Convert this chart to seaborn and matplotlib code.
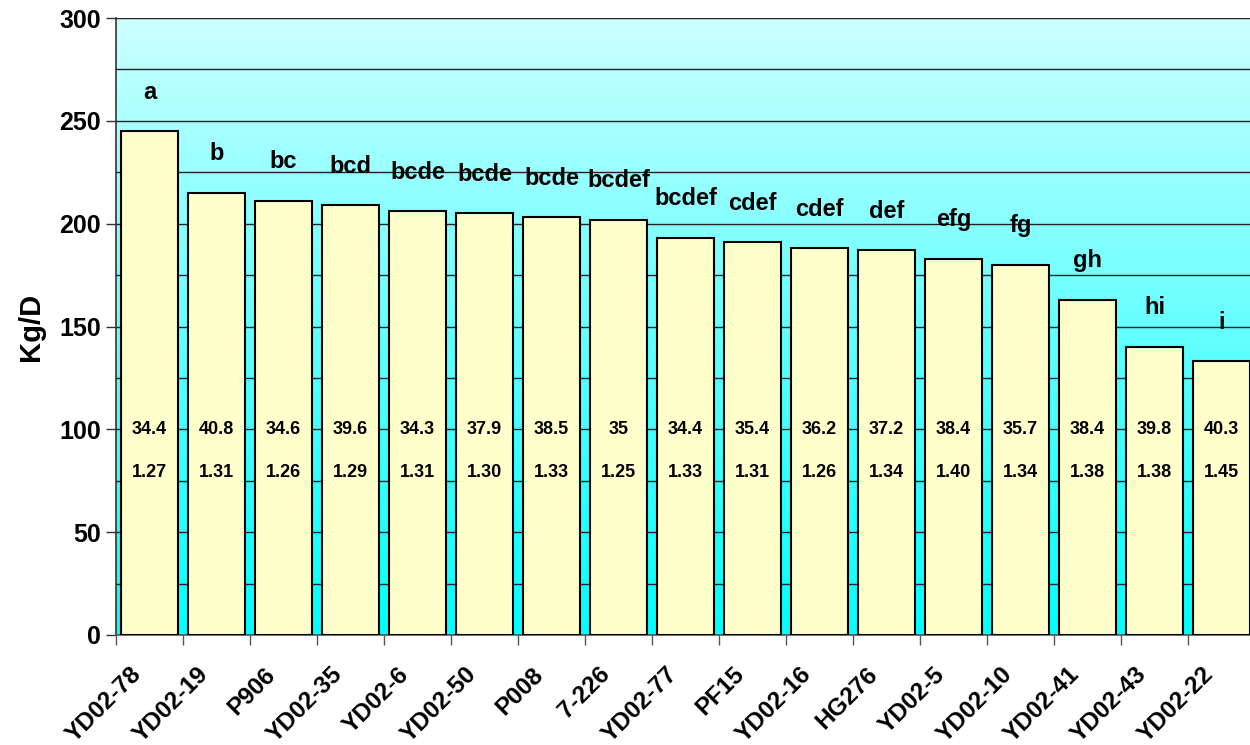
import numpy as np
import pandas as pd
import matplotlib
matplotlib.use("Agg")
import matplotlib.pyplot as plt
import matplotlib.transforms as mtransforms
import seaborn as sns
from matplotlib.colors import LinearSegmentedColormap

# ── data ──────────────────────────────────────────────────────────────────────
lines   = ["YD02-78", "YD02-19", "P906", "YD02-35", "YD02-6", "YD02-50", "P008",
           "7-226", "YD02-77", "PF15", "YD02-16", "HG276", "YD02-5", "YD02-10",
           "YD02-41", "YD02-43", "YD02-22"]
kg_day  = [245, 215, 211, 209, 206, 205, 203, 202, 193, 191, 188, 187, 183,
           180, 163, 140, 133]
letters = ["a", "b", "bc", "bcd", "bcde", "bcde", "bcde", "bcdef", "bcdef",
           "cdef", "cdef", "def", "efg", "fg", "gh", "hi", "i"]
row1    = ["34.4", "40.8", "34.6", "39.6", "34.3", "37.9", "38.5", "35", "34.4",
           "35.4", "36.2", "37.2", "38.4", "35.7", "38.4", "39.8", "40.3"]
row2    = ["1.27", "1.31", "1.26", "1.29", "1.31", "1.30", "1.33", "1.25", "1.33",
           "1.31", "1.26", "1.34", "1.40", "1.34", "1.38", "1.38", "1.45"]

df = pd.DataFrame({"line": lines, "kg": kg_day})

sns.set_style("ticks")
plt.rcParams["font.family"] = ["Liberation Sans", "DejaVu Sans"]
plt.rcParams["font.weight"] = "bold"
plt.rcParams["text.color"] = "black"
plt.rcParams["axes.labelcolor"] = "black"
plt.rcParams["xtick.color"] = "black"
plt.rcParams["ytick.color"] = "black"

fig = plt.figure(figsize=(12.5, 7.45), dpi=100)
ax = fig.add_axes([116 / 1250, 110 / 745, 1139 / 1250, 617 / 745])

# gradient background (light cyan top -> cyan bottom)
cmap = LinearSegmentedColormap.from_list("bg", ["#00FFFF", "#CCFFFF"])
grad = np.linspace(0, 1, 256).reshape(-1, 1)
ax.imshow(grad, cmap=cmap, origin="lower", aspect="auto",
          extent=[-0.5, len(lines) - 0.5, 0, 300], zorder=0)

sns.barplot(data=df, x="line", y="kg", color="#FFFFCC", edgecolor="black",
            linewidth=1.5, width=0.84, saturation=1, ax=ax, zorder=3)

ax.set_xlim(-0.5, len(lines) - 0.5)
ax.set_ylim(0, 300)

# grid every 25, ticks every 50
ax.set_yticks(np.arange(0, 301, 50))
ax.set_yticks(np.arange(0, 301, 25), minor=True)
ax.yaxis.grid(True, which="both", color="#222222", linewidth=1.0, zorder=1)
ax.tick_params(axis="y", which="minor", length=0)
ax.tick_params(axis="y", which="major", length=7, width=1, color="#333333",
               labelsize=18, pad=4)
ax.set_axisbelow(True)

# x ticks sit between the bars; labels at bar centres
ax.set_xticks(np.arange(len(lines)))
ax.set_xticks(np.arange(len(lines) + 1) - 0.5, minor=True)
ax.tick_params(axis="x", which="major", length=0, labelsize=17.5, pad=20)
ax.tick_params(axis="x", which="minor", length=7, width=1, color="#555555")
ax.set_xticklabels(lines, rotation=45, ha="right", rotation_mode="anchor",
                   fontweight="bold")
shift = mtransforms.ScaledTranslation(-20 / 100, 0, fig.dpi_scale_trans)
for lab in ax.get_xticklabels():
    lab.set_transform(lab.get_transform() + shift)
for lab in ax.get_yticklabels():
    lab.set_fontweight("bold")

ax.set_xlabel("")
ax.set_ylabel("Kg/D", fontsize=21, fontweight="bold", labelpad=10)

for s in ["top", "right"]:
    ax.spines[s].set_visible(False)
ax.spines["left"].set_color("#333333")
ax.spines["bottom"].set_color("#555555")
ax.spines["left"].set_linewidth(1.2)
ax.spines["bottom"].set_linewidth(1.2)

# significance letters and inner numbers
for i, (v, let) in enumerate(zip(kg_day, letters)):
    ax.text(i, v + 19, let, ha="center", va="center", fontsize=17,
            fontweight="bold", zorder=5)
    ax.text(i, 100, row1[i], ha="center", va="center", fontsize=13,
            fontweight="bold", zorder=5)
    ax.text(i, 79, row2[i], ha="center", va="center", fontsize=13,
            fontweight="bold", zorder=5)

fig.savefig("out.png", dpi=100)
plt.close(fig)
